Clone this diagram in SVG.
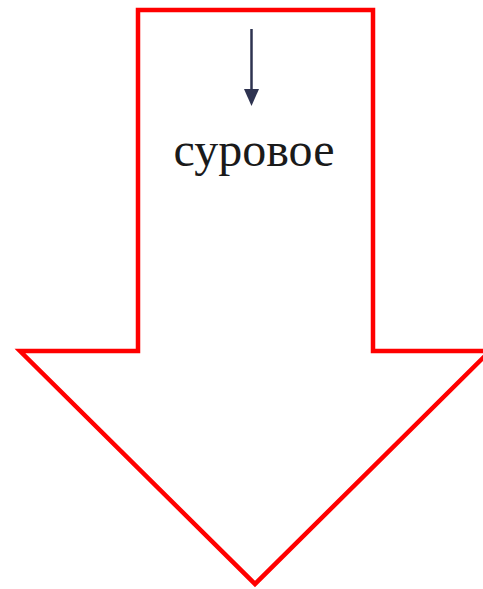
<svg xmlns="http://www.w3.org/2000/svg" width="483" height="589" viewBox="0 0 483 589">
<style>
.shape{fill:#ffffff;stroke:#ff0000;stroke-width:4.5;stroke-linejoin:miter}
.lbl{font-family:"Liberation Serif","Times New Roman",serif;font-size:48px;fill:#1a1a1a;text-anchor:middle}
.conn{stroke:#2e3350;stroke-width:2.5;fill:none}
</style>
<rect width="483" height="589" fill="#ffffff"/>
<g id="arrow-shape">
<path class="shape" d="M138,10 L373,10 L373,351 L490,351 L255,584 L20,351 L138,351 Z"/>
</g>
<g id="connectors">
<line class="conn" x1="251.5" y1="29" x2="251.5" y2="90"/>
<path d="M244,89 L259,89 L251.5,106 Z" fill="#2e3350"/>
</g>
<g id="label">
<text class="lbl" x="254" y="166">суровое</text>
</g>
</svg>
